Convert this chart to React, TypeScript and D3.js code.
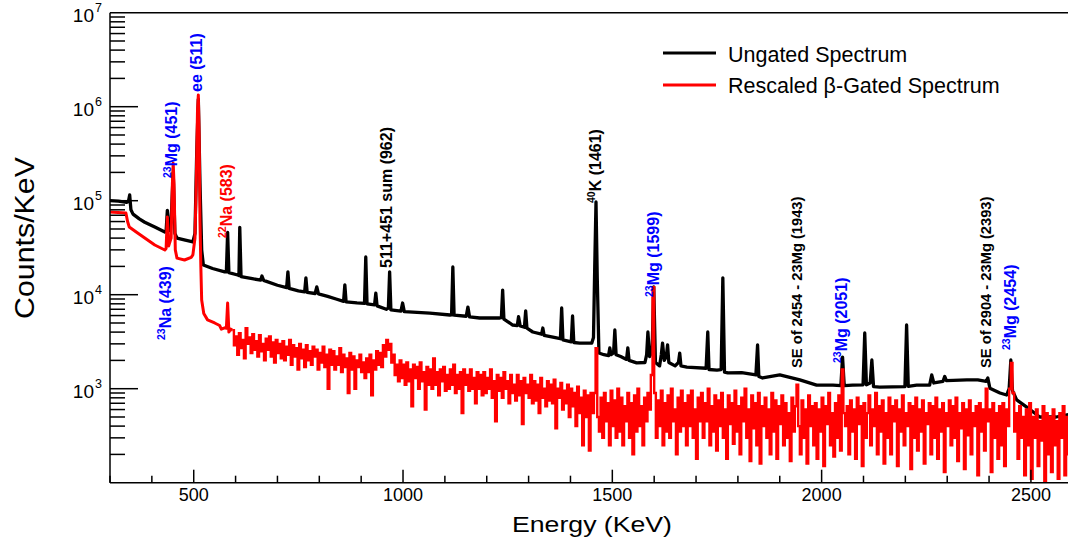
import React from 'react';
import * as d3 from 'd3';

const WIDTH = 1068;
const HEIGHT = 547;
const PLOT = { left: 110, right: 1068.6, top: 12.7, bottom: 482.7 };
const FONT = '"Liberation Sans", Arial, Helvetica, sans-serif';
const BLUE = '#0000ff';
const RED = '#ff0000';

// ungated spectrum, [energy KeV, counts/KeV]
const ungated: [number, number][] = [
  [300, 100000], [320, 99000], [340, 96000], [344, 98000], [347, 115000], [350, 80000], [355, 72000],
  [370, 64000], [383, 59000], [407, 52500], [431, 46400], [434, 47000], [437, 79000], [441, 48000],
  [446, 60000], [451, 200000], [455, 45000], [460, 40000], [480, 38000], [498, 36400], [503, 45000],
  [507, 300000], [511, 1200000], [515, 150000], [519, 30000], [523, 20700], [545, 19000], [574, 17500],
  [578, 17500], [581, 46000], [584, 17200], [605, 16200], [608, 16000], [610, 52000], [613, 15600],
  [640, 14800], [660, 14300], [663, 15800], [667, 14200], [700, 12600], [722, 11900], [725, 17500],
  [728, 11700], [750, 11000], [765, 10700], [768, 15100], [771, 10600], [790, 10300], [794, 12100],
  [798, 10200], [820, 9600], [840, 9000], [858, 8500], [861, 12700], [864, 8400], [890, 8200],
  [908, 8100], [911, 25200], [914, 8000], [932, 7800], [935, 10400], [938, 7600], [960, 7000],
  [965, 7200], [968, 17500], [971, 6900], [995, 6700], [999, 8160], [1003, 6600], [1064, 6380],
  [1112, 6080], [1116, 6100], [1119, 19700], [1122, 6050], [1151, 5900], [1155, 7390], [1159, 5800],
  [1183, 5650], [1231, 5650], [1235, 5700], [1238, 11200], [1241, 5500], [1262, 4760], [1273, 4700],
  [1276, 5830], [1280, 4650], [1290, 4500], [1293, 6720], [1296, 4400], [1310, 4010], [1331, 3800],
  [1334, 4420], [1337, 3700], [1367, 3470], [1376, 3400], [1379, 7220], [1382, 3300], [1402, 3150],
  [1405, 5940], [1408, 3100], [1422, 3060], [1451, 3060], [1455, 3500], [1458, 20000], [1461, 97000],
  [1464, 15000], [1468, 2400], [1480, 2300], [1491, 2250], [1494, 2710], [1497, 2300], [1503, 2400],
  [1506, 4210], [1509, 2300], [1520, 2200], [1534, 2050], [1537, 2710], [1540, 2000], [1558, 1880],
  [1578, 1900], [1582, 2300], [1585, 4010], [1589, 2200], [1595, 2500], [1599, 12100], [1603, 1900],
  [1613, 1750], [1617, 2300], [1620, 3060], [1624, 2000], [1629, 2200], [1632, 2920], [1635, 1900],
  [1650, 1750], [1658, 1900], [1661, 2390], [1664, 1750], [1678, 1700], [1724, 1650], [1728, 4010],
  [1731, 1600], [1750, 1580], [1760, 1600], [1764, 15100], [1768, 1500], [1776, 1470], [1809, 1480],
  [1843, 1400], [1847, 2920], [1850, 1350], [1859, 1300], [1900, 1400], [1948, 1240], [1988, 1090],
  [2027, 1090], [2046, 1080], [2050, 2170], [2054, 1080], [2074, 1090], [2099, 1100], [2103, 3920],
  [2107, 1100], [2116, 1150], [2120, 2020], [2124, 1050], [2139, 1040], [2199, 1050], [2203, 4760],
  [2207, 1060], [2227, 1090], [2258, 1090], [2263, 1400], [2268, 1150], [2290, 1200], [2294, 1350],
  [2298, 1220], [2347, 1240], [2373, 1240], [2393, 1200], [2397, 1300], [2402, 1010], [2426, 900],
  [2442, 857], [2448, 1000], [2452, 2020], [2456, 950], [2466, 760], [2490, 638], [2521, 500],
  [2560, 500], [2590, 530],
];

// beta-gated spectrum below ~590 KeV
const gatedLow: [number, number][] = [
  [300, 76000], [338, 74000], [342, 60000], [346, 52500], [366, 45300], [407, 33800], [431, 29900],
  [434, 31000], [437, 67000], [440, 33000], [446, 40000], [449, 150000], [451, 250000], [453, 150000],
  [456, 30000], [460, 24500], [478, 23400], [494, 25000], [498, 26500], [503, 40000], [506, 150000],
  [509, 900000], [511, 1330000], [513, 500000], [515, 60000], [517, 20000], [519, 8800], [524, 6300],
  [533, 5400], [550, 5000], [562, 4700], [566, 4300], [574, 4440], [578, 4400], [581, 8160], [584, 4000],
  [588, 4300], [592, 4200],
];

// beta-gated spectrum, 4 KeV bins starting at 592 KeV (one row = 40 KeV)
const gatedStart = 592;
const gatedWidth = 4;
const gatedBins = [
  4200, 2900, 3600, 2300, 3900, 2700, 3300, 2100, 4400, 3000,
  3500, 2400, 3800, 2600, 3200, 2200, 3700, 2500, 3000, 2000,
  3400, 2600, 3600, 2200, 3100, 1900, 3300, 2400, 3000, 2100,
  3200, 2000, 2800, 2300, 3300, 1800, 2900, 2200, 2700, 1600,
  3000, 2100, 2600, 1700, 2900, 2000, 2500, 1800, 2800, 2200,
  2600, 1600, 2400, 1900, 2800, 1700, 2300, 1000, 2600, 1800,
  2500, 1600, 2200, 1800, 2700, 1500, 2300, 1700, 2100, 900,
  2400, 1600, 2200, 1000, 2000, 1700, 2300, 1500, 1900, 1300,
  2100, 1500, 2300, 850, 2000, 1600, 2500, 1800, 2400, 1700,
  2900, 2200, 3300, 2600, 3000, 1900, 2300, 1400, 1800, 1200,
  2000, 1300, 1800, 1100, 1900, 1200, 1600, 650, 1800, 1300,
  1700, 1000, 1900, 1200, 1500, 600, 1700, 1100, 1600, 1000,
  2100, 1100, 1500, 850, 1600, 1200, 1700, 950, 1400, 1000,
  1600, 1100, 1800, 900, 1400, 1000, 1500, 550, 1600, 1100,
  1400, 950, 1600, 1000, 1300, 700, 1500, 1000, 1400, 850,
  1500, 900, 1300, 1000, 1600, 800, 1200, 450, 1400, 950,
  1300, 800, 1500, 1000, 1200, 700, 1400, 900, 1100, 750,
  1400, 850, 1200, 420, 1300, 900, 1100, 800, 1400, 700,
  1200, 750, 1100, 550, 1300, 800, 1000, 650, 1200, 750,
  1100, 700, 1250, 380, 1000, 800, 1150, 600, 950, 700,
  1100, 500, 1000, 650, 900, 400, 1050, 550, 800, 250,
  950, 500, 850, 220, 900, 550, 900, 2700, 500, 350,
  800, 300, 900, 450, 700, 250, 950, 400, 750, 300,
  1000, 350, 800, 250, 650, 450, 900, 300, 700, 200,
  850, 350, 1000, 400, 650, 250, 800, 450, 900, 600,
  1400, 12000, 900, 300, 750, 400, 950, 250, 700, 350,
  850, 300, 1000, 450, 600, 200, 800, 350, 950, 400,
  700, 250, 850, 400, 950, 300, 600, 180, 800, 450,
  900, 300, 700, 450, 1000, 250, 650, 350, 850, 220,
  750, 400, 900, 300, 600, 180, 850, 420, 700, 260,
  950, 350, 650, 200, 800, 450, 1000, 300, 600, 170,
  850, 380, 700, 250, 900, 160, 650, 400, 800, 300,
  600, 200, 900, 350, 750, 180, 650, 420, 850, 250,
  700, 300, 550, 170, 800, 350, 650, 1100, 400, 200,
  750, 300, 600, 160, 850, 400, 650, 250, 700, 180,
  600, 350, 800, 150, 650, 420, 900, 250, 550, 190,
  700, 300, 850, 220, 1600, 550, 400, 650, 200, 750,
  350, 600, 180, 800, 420, 650, 150, 700, 300, 550,
  850, 250, 600, 400, 900, 200, 650, 350, 750, 160,
  550, 300, 800, 200, 650, 450, 750, 150, 600, 350,
  850, 250, 550, 400, 700, 140, 650, 300, 800, 220,
  600, 350, 750, 160, 550, 420, 700, 200, 650, 300,
  800, 180, 600, 350, 700, 130, 550, 400, 750, 250,
  650, 300, 800, 170, 550, 380, 700, 140, 600, 320,
  750, 200, 550, 400, 650, 120, 700, 350, 600, 220,
  1000, 450, 600, 130, 700, 300, 550, 180, 650, 250,
  700, 150, 600, 400, 1000, 1880, 900, 350, 550, 180,
  650, 300, 500, 120, 600, 250, 700, 110, 500, 300,
  600, 150, 450, 280, 650, 105, 550, 200, 500, 130,
  600, 250, 450, 110, 550, 300, 650, 120, 500, 200,
];

const xTickLabels = [500, 1000, 1500, 2000, 2500];
const yTickPowers = [3, 4, 5, 6, 7];

// rotated peak labels: [superscript, text, colour, font size, baseline x, start y]
const peakLabels: [string, string, string, number, number, number][] = [
  ['23', 'Na (439)', BLUE, 16, 171, 340],
  ['23', 'Mg (451)', BLUE, 16, 177, 178],
  ['', 'ee (511)', BLUE, 16, 202, 92],
  ['22', 'Na (583)', RED, 16, 232, 238],
  ['', '511+451 sum (962)', '#000', 16, 392, 268],
  ['40', 'K (1461)', '#000', 16, 601, 203],
  ['23', 'Mg (1599)', BLUE, 16, 659, 297],
  ['', 'SE of 2454 - 23Mg (1943)', '#000', 14.7, 802, 368],
  ['23', 'Mg (2051)', BLUE, 16, 847, 363],
  ['', 'SE of 2904 - 23Mg (2393)', '#000', 14.7, 991, 368],
  ['23', 'Mg (2454)', BLUE, 16, 1016, 350],
];

const App = () => {
  const x = d3.scaleLinear().domain([300, 2590]).range([PLOT.left, PLOT.right]);
  const y = d3.scaleLog().domain([100, 1e7]).range([PLOT.bottom, PLOT.top]);

  const line = d3.line<[number, number]>()
    .x(d => x(d[0]))
    .y(d => y(Math.max(d[1], 60)));

  const stepLine = d3.line<[number, number]>()
    .x(d => x(d[0]))
    .y(d => y(Math.max(d[1], 60)))
    .curve(d3.curveStepAfter);

  const binPoints: [number, number][] = gatedBins.map((v, i) => [gatedStart + i * gatedWidth, v]);
  binPoints.push([gatedStart + gatedBins.length * gatedWidth, gatedBins[gatedBins.length - 1]]);

  const xTicks = d3.range(300, 2600, 100);
  const yTicks: { v: number; major: boolean }[] = [];
  for (let k = 2; k < 7; k++) {
    for (let m = 1; m < 10; m++) {
      const v = m * Math.pow(10, k);
      if (v > 100) yTicks.push({ v, major: m === 1 });
    }
  }

  return (
    <svg width={WIDTH} height={HEIGHT} style={{ position: 'absolute', left: 0, top: 0, background: '#fff' }}
      fontFamily={FONT}>
      <defs>
        <clipPath id="plotClip">
          <rect x={PLOT.left} y={PLOT.top} width={PLOT.right - PLOT.left} height={PLOT.bottom - PLOT.top} />
        </clipPath>
      </defs>

      <g clipPath="url(#plotClip)" fill="none" strokeLinejoin="round">
        <path d={line(ungated) || ''} stroke="#000" strokeWidth={3.3} />
        <path d={line(gatedLow) || ''} stroke={RED} strokeWidth={3} />
        <path d={stepLine(binPoints) || ''} stroke={RED} strokeWidth={2.4} strokeLinejoin="miter" />
      </g>

      {/* frame */}
      <g stroke="#000" strokeWidth={1.5} fill="none">
        <line x1={PLOT.left} x2={WIDTH} y1={PLOT.top} y2={PLOT.top} />
        <line x1={PLOT.left} x2={PLOT.left} y1={PLOT.top} y2={PLOT.bottom} />
        <line x1={PLOT.left} x2={WIDTH} y1={PLOT.bottom} y2={PLOT.bottom} />
        {xTicks.map(t => (
          <line key={t} x1={x(t)} x2={x(t)} y1={PLOT.bottom} y2={PLOT.bottom - (t % 500 === 0 ? 13 : 7)} />
        ))}
        {yTicks.map(t => (
          <line key={t.v} x1={PLOT.left} x2={PLOT.left + (t.major ? 28 : 15)} y1={y(t.v)} y2={y(t.v)} />
        ))}
      </g>

      {xTickLabels.map(t => (
        <text key={t} x={x(t)} y={501} fontSize={18} textAnchor="middle">{t}</text>
      ))}
      {yTickPowers.map(p => (
        <g key={p}>
          <text x={94} y={y(Math.pow(10, p)) + 9} fontSize={19} textAnchor="end">10</text>
          <text x={95} y={y(Math.pow(10, p)) - 1} fontSize={12.5}>{p}</text>
        </g>
      ))}

      <text x={592} y={532} fontSize={22} textAnchor="middle" textLength={160} lengthAdjust="spacingAndGlyphs">Energy (KeV)</text>
      <text transform="translate(34,238) rotate(-90)" fontSize={27} textAnchor="middle" textLength={162} lengthAdjust="spacingAndGlyphs">Counts/KeV</text>

      {peakLabels.map(([sup, label, color, size, bx, by]) => (
        <text key={label + bx} transform={`translate(${bx},${by}) rotate(-90)`} fill={color}
          fontSize={size} fontWeight="bold">
          {sup ? <tspan fontSize={10.5} dy={-6}>{sup}</tspan> : null}
          <tspan dy={sup ? 6 : 0}>{label}</tspan>
        </text>
      ))}

      {/* legend */}
      <line x1={663} x2={716} y1={53} y2={53} stroke="#000" strokeWidth={3} />
      <text x={728} y={61.5} fontSize={21.5}>Ungated Spectrum</text>
      <line x1={663} x2={716} y1={85} y2={85} stroke={RED} strokeWidth={3} />
      <text x={728} y={92.5} fontSize={21.5}>Rescaled β-Gated Spectrum</text>
    </svg>
  );
};

export default App;
